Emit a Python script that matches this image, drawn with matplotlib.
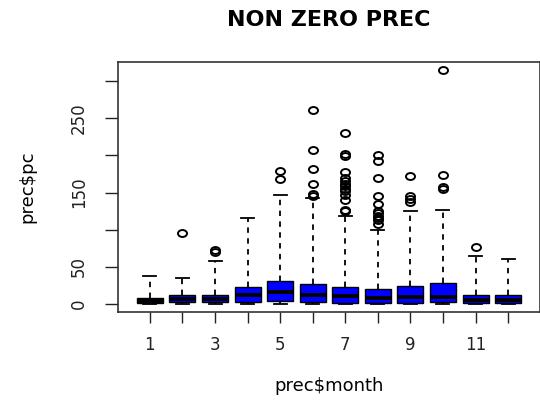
import matplotlib
matplotlib.use("Agg")
import matplotlib.pyplot as plt
from matplotlib.path import Path
from matplotlib.transforms import Affine2D

# monthly precipitation (non zero days), box statistics
months = [1, 2, 3, 4, 5, 6, 7, 8, 9, 10, 11, 12]
whislo = [0.1, 0.1, 0.1, 0.1, 0.2, 0.1, 0.1, 0.1, 0.1, 0.1, 0.1, 0.1]
q1 = [1.5, 2.0, 2.0, 2.7, 4.5, 2.7, 1.8, 1.8, 1.8, 2.7, 1.5, 1.5]
med = [4.0, 7.0, 7.0, 11.7, 15.8, 11.7, 11.3, 8.6, 9.0, 9.9, 6.0, 6.0]
q3 = [8.5, 12.5, 12.5, 22.5, 31.5, 27.0, 23.4, 19.8, 24.3, 28.0, 12.5, 12.5]
whishi = [38, 35, 58, 116, 147, 143, 119, 100, 125, 127, 65, 60]
outliers = [
    [],
    [95.5],
    [70, 72.5],
    [],
    [168, 179],
    [146, 148, 162, 181.5, 207.6, 261],
    [124.7, 127, 140, 147, 152, 155, 159, 162, 165, 169, 177, 199, 202, 230],
    [107, 113, 116, 119, 122, 125, 135, 145, 170, 192, 201],
    [137, 141, 146, 172],
    [155.4, 157.7, 173.4, 315],
    [76.6],
    [],
]
yticks = [0, 50, 100, 150, 200, 250, 300]
ytick_labels = ["0", "50", "", "150", "", "250", ""]
xtick_labels = ["1", "", "3", "", "5", "", "7", "", "9", "", "11", ""]

stats = []
for i in range(len(months)):
    stats.append(dict(whislo=whislo[i], q1=q1[i], med=med[i], q3=q3[i],
                      whishi=whishi[i], fliers=outliers[i]))

# slightly wide open circle, like the stretched R output
oval = Affine2D().scale(1.3, 1.0).transform_path(Path.unit_circle())

fig = plt.figure(figsize=(5.4, 4.03), dpi=100)
ax = fig.add_axes([118 / 540, 91 / 403, 422 / 540, 250 / 403])

ax.bxp(stats, positions=months, widths=0.8, patch_artist=True,
       boxprops=dict(facecolor="#0000ff", edgecolor="black", linewidth=1),
       medianprops=dict(color="black", linewidth=2.8),
       whiskerprops=dict(color="black", linewidth=1.3, linestyle=(0, (3, 3))),
       capprops=dict(color="black", linewidth=1.3),
       capwidths=0.4,
       flierprops=dict(marker=oval, markerfacecolor="none", markeredgecolor="black",
                       markersize=6.5, markeredgewidth=1.4))

ax.set_xlim(0.02, 12.98)
ax.set_ylim(-10.8, 325.7)
ax.set_xticks(months)
ax.set_xticklabels(xtick_labels)
ax.set_yticks(yticks)
ax.set_yticklabels(ytick_labels, rotation=90, va="center")
ax.tick_params(axis="x", length=8, width=1, pad=9, labelsize=12, colors="#222222")
ax.tick_params(axis="y", length=9.5, width=1, pad=12, labelsize=12, colors="#222222")

for s in ax.spines.values():
    s.set_linewidth(1.2)
    s.set_color("#333333")

ax.set_xlabel("prec$month", fontsize=13, labelpad=17)
ax.set_ylabel("prec$pc", fontsize=13, labelpad=24)
fig.text(329 / 540, 1 - 20 / 403, "NON ZERO PREC", fontsize=16, fontweight="bold",
         ha="center", va="center")

plt.savefig("out.png", dpi=100)
plt.close()
